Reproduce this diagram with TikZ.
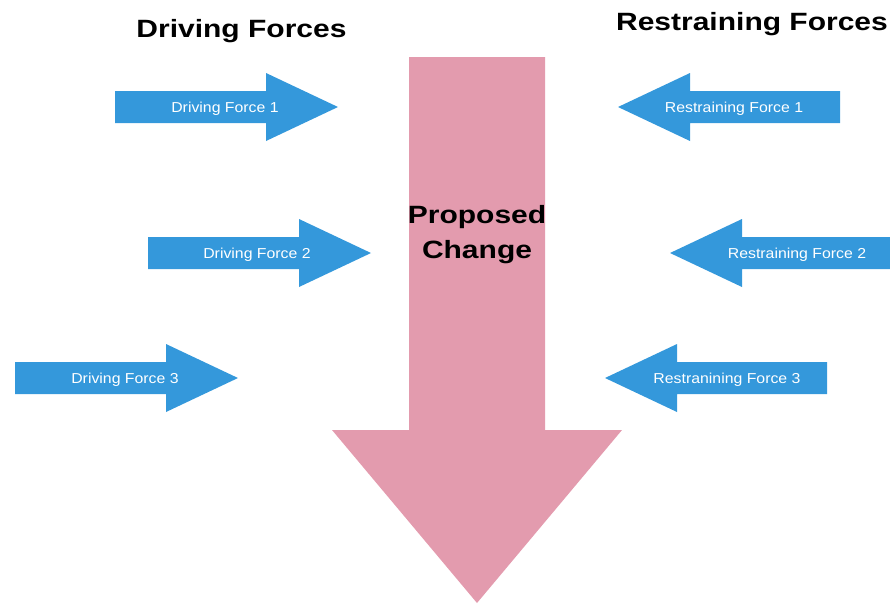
\documentclass[tikz,border=0pt]{standalone}
\usepackage{fontspec}
\setmainfont{Liberation Sans}
\newfontfamily\headfont[FakeStretch=1.2]{Liberation Sans}
\newfontfamily\forcefont[FakeStretch=1.1]{Liberation Sans}
\usepackage{tikz}
\definecolor{forceblue}{RGB}{52,152,219}
\definecolor{changepink}{RGB}{227,155,174}
\tikzset{headtitle/.style={font=\headfont\bfseries\fontsize{25}{30}\selectfont, anchor=base, inner sep=0pt},
  forcelabel/.style={font=\forcefont\fontsize{14.4}{16}\selectfont, text=white, anchor=base, inner sep=0pt}}

\begin{document}
\begin{tikzpicture}[x=1pt, y=-1pt]
\useasboundingbox (0,0) rectangle (890,603);
% proposed change
\fill[changepink] (409,57) -- (545,57) -- (545,430) -- (622,430) -- (477,603) -- (332,430) -- (409,430) -- cycle;
\node[headtitle] (prop) at (477,223) {Proposed};
\node[headtitle] (chg) at (477,258) {Change};
% headings
\node[headtitle] (drv) at (241.5,37) {Driving Forces};
\node[headtitle] (rst) at (752,30) {Restraining Forces};
% driving forces
\foreach \n/\x/\y/\lx in {1/115/107/225, 2/148/253/257, 3/15/378/125} {
  \fill[forceblue] (\x,\y-16) -- ++(151,0) -- ++(0,-18) -- (\x+223,\y) -- (\x+151,\y+34) -- ++(0,-18) -- (\x,\y+16) -- cycle;
  \node[forcelabel] (drv\n) at (\lx,\y+5) {Driving Force \n};
}
% restraining forces
\foreach \n/\x/\y/\lx/\txt in {1/618/107/734/Restraining Force 1, 2/670/253/797/Restraining Force 2, 3/605/378/727/Restranining Force 3} {
  \fill[forceblue] (\x,\y) -- (\x+72,\y-34) -- ++(0,18) -- (\x+222,\y-16) -- ++(0,32) -- (\x+72,\y+16) -- ++(0,18) -- cycle;
  \node[forcelabel] (rst\n) at (\lx,\y+5) {\txt};
}
\end{tikzpicture}
\end{document}
